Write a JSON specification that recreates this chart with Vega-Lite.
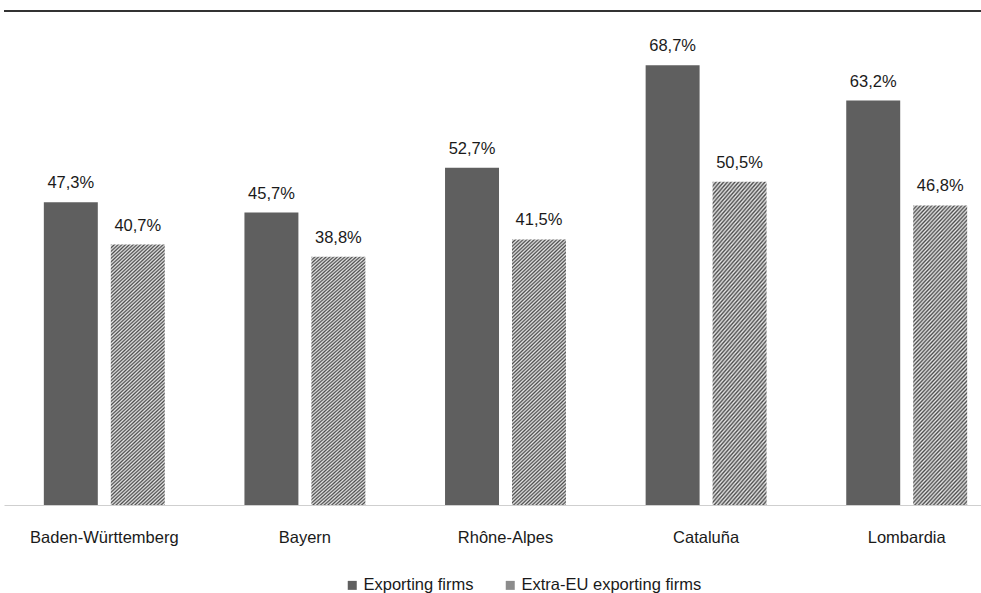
{
  "$schema": "https://vega.github.io/schema/vega-lite/v6.json",
  "width": 977,
  "height": 494,
  "autosize": "none",
  "padding": {"left": 4, "top": 11, "right": 0, "bottom": 88},
  "background": "white",
  "config": {
    "locale": {"number": {"decimal": ",", "thousands": ".", "grouping": [3], "currency": ["", " €"]}},
    "view": {"stroke": null},
    "font": "Liberation Sans"
  },
  "data": {
    "values": [
      {"region": "Baden-Württemberg", "series": "Exporting firms", "share": 0.473},
      {"region": "Baden-Württemberg", "series": "Extra-EU exporting firms", "share": 0.407},
      {"region": "Bayern", "series": "Exporting firms", "share": 0.457},
      {"region": "Bayern", "series": "Extra-EU exporting firms", "share": 0.388},
      {"region": "Rhône-Alpes", "series": "Exporting firms", "share": 0.527},
      {"region": "Rhône-Alpes", "series": "Extra-EU exporting firms", "share": 0.415},
      {"region": "Cataluña", "series": "Exporting firms", "share": 0.687},
      {"region": "Cataluña", "series": "Extra-EU exporting firms", "share": 0.505},
      {"region": "Lombardia", "series": "Exporting firms", "share": 0.632},
      {"region": "Lombardia", "series": "Extra-EU exporting firms", "share": 0.468}
    ]
  },
  "layer": [
    {
      "mark": {"type": "bar"},
      "encoding": {
        "x": {
          "field": "region", "type": "nominal", "sort": null,
          "scale": {"range": [0, 1003], "paddingInner": 0, "paddingOuter": 0},
          "axis": {
            "title": null, "labelAngle": 0, "ticks": false,
            "domainColor": "#cfcfcf", "domainWidth": 1,
            "labelFont": "Liberation Sans", "labelFontSize": 16.5, "labelColor": "#1a1a1a",
            "labelPadding": 24
          }
        },
        "xOffset": {"field": "series", "type": "nominal", "scale": {"paddingInner": 0.194, "paddingOuter": 0.595}},
        "y": {"field": "share", "type": "quantitative", "scale": {"domain": [0, 0.771875], "nice": false}, "axis": null},
        "fill": {
          "condition": {"test": "datum.series === 'Extra-EU exporting firms'", "value": {"gradient": "linear", "x1": 0, "y1": 0, "x2": 0.2493, "y2": 1.2927, "stops": [
            {"offset": 0, "color": "#4d4d4d"}, {"offset": 0.005, "color": "#e6e6e6"},
            {"offset": 0.01, "color": "#4d4d4d"}, {"offset": 0.015, "color": "#e6e6e6"},
            {"offset": 0.02, "color": "#4d4d4d"}, {"offset": 0.025, "color": "#e6e6e6"},
            {"offset": 0.03, "color": "#4d4d4d"}, {"offset": 0.035, "color": "#e6e6e6"},
            {"offset": 0.04, "color": "#4d4d4d"}, {"offset": 0.045, "color": "#e6e6e6"},
            {"offset": 0.05, "color": "#4d4d4d"}, {"offset": 0.055, "color": "#e6e6e6"},
            {"offset": 0.06, "color": "#4d4d4d"}, {"offset": 0.065, "color": "#e6e6e6"},
            {"offset": 0.07, "color": "#4d4d4d"}, {"offset": 0.075, "color": "#e6e6e6"},
            {"offset": 0.08, "color": "#4d4d4d"}, {"offset": 0.085, "color": "#e6e6e6"},
            {"offset": 0.09, "color": "#4d4d4d"}, {"offset": 0.095, "color": "#e6e6e6"},
            {"offset": 0.10, "color": "#4d4d4d"}, {"offset": 0.105, "color": "#e6e6e6"},
            {"offset": 0.11, "color": "#4d4d4d"}, {"offset": 0.115, "color": "#e6e6e6"},
            {"offset": 0.12, "color": "#4d4d4d"}, {"offset": 0.125, "color": "#e6e6e6"},
            {"offset": 0.13, "color": "#4d4d4d"}, {"offset": 0.135, "color": "#e6e6e6"},
            {"offset": 0.14, "color": "#4d4d4d"}, {"offset": 0.145, "color": "#e6e6e6"},
            {"offset": 0.15, "color": "#4d4d4d"}, {"offset": 0.155, "color": "#e6e6e6"},
            {"offset": 0.16, "color": "#4d4d4d"}, {"offset": 0.165, "color": "#e6e6e6"},
            {"offset": 0.17, "color": "#4d4d4d"}, {"offset": 0.175, "color": "#e6e6e6"},
            {"offset": 0.18, "color": "#4d4d4d"}, {"offset": 0.185, "color": "#e6e6e6"},
            {"offset": 0.19, "color": "#4d4d4d"}, {"offset": 0.195, "color": "#e6e6e6"},
            {"offset": 0.20, "color": "#4d4d4d"}, {"offset": 0.205, "color": "#e6e6e6"},
            {"offset": 0.21, "color": "#4d4d4d"}, {"offset": 0.215, "color": "#e6e6e6"},
            {"offset": 0.22, "color": "#4d4d4d"}, {"offset": 0.225, "color": "#e6e6e6"},
            {"offset": 0.23, "color": "#4d4d4d"}, {"offset": 0.235, "color": "#e6e6e6"},
            {"offset": 0.24, "color": "#4d4d4d"}, {"offset": 0.245, "color": "#e6e6e6"},
            {"offset": 0.25, "color": "#4d4d4d"}, {"offset": 0.255, "color": "#e6e6e6"},
            {"offset": 0.26, "color": "#4d4d4d"}, {"offset": 0.265, "color": "#e6e6e6"},
            {"offset": 0.27, "color": "#4d4d4d"}, {"offset": 0.275, "color": "#e6e6e6"},
            {"offset": 0.28, "color": "#4d4d4d"}, {"offset": 0.285, "color": "#e6e6e6"},
            {"offset": 0.29, "color": "#4d4d4d"}, {"offset": 0.295, "color": "#e6e6e6"},
            {"offset": 0.30, "color": "#4d4d4d"}, {"offset": 0.305, "color": "#e6e6e6"},
            {"offset": 0.31, "color": "#4d4d4d"}, {"offset": 0.315, "color": "#e6e6e6"},
            {"offset": 0.32, "color": "#4d4d4d"}, {"offset": 0.325, "color": "#e6e6e6"},
            {"offset": 0.33, "color": "#4d4d4d"}, {"offset": 0.335, "color": "#e6e6e6"},
            {"offset": 0.34, "color": "#4d4d4d"}, {"offset": 0.345, "color": "#e6e6e6"},
            {"offset": 0.35, "color": "#4d4d4d"}, {"offset": 0.355, "color": "#e6e6e6"},
            {"offset": 0.36, "color": "#4d4d4d"}, {"offset": 0.365, "color": "#e6e6e6"},
            {"offset": 0.37, "color": "#4d4d4d"}, {"offset": 0.375, "color": "#e6e6e6"},
            {"offset": 0.38, "color": "#4d4d4d"}, {"offset": 0.385, "color": "#e6e6e6"},
            {"offset": 0.39, "color": "#4d4d4d"}, {"offset": 0.395, "color": "#e6e6e6"},
            {"offset": 0.40, "color": "#4d4d4d"}, {"offset": 0.405, "color": "#e6e6e6"},
            {"offset": 0.41, "color": "#4d4d4d"}, {"offset": 0.415, "color": "#e6e6e6"},
            {"offset": 0.42, "color": "#4d4d4d"}, {"offset": 0.425, "color": "#e6e6e6"},
            {"offset": 0.43, "color": "#4d4d4d"}, {"offset": 0.435, "color": "#e6e6e6"},
            {"offset": 0.44, "color": "#4d4d4d"}, {"offset": 0.445, "color": "#e6e6e6"},
            {"offset": 0.45, "color": "#4d4d4d"}, {"offset": 0.455, "color": "#e6e6e6"},
            {"offset": 0.46, "color": "#4d4d4d"}, {"offset": 0.465, "color": "#e6e6e6"},
            {"offset": 0.47, "color": "#4d4d4d"}, {"offset": 0.475, "color": "#e6e6e6"},
            {"offset": 0.48, "color": "#4d4d4d"}, {"offset": 0.485, "color": "#e6e6e6"},
            {"offset": 0.49, "color": "#4d4d4d"}, {"offset": 0.495, "color": "#e6e6e6"},
            {"offset": 0.50, "color": "#4d4d4d"}, {"offset": 0.505, "color": "#e6e6e6"},
            {"offset": 0.51, "color": "#4d4d4d"}, {"offset": 0.515, "color": "#e6e6e6"},
            {"offset": 0.52, "color": "#4d4d4d"}, {"offset": 0.525, "color": "#e6e6e6"},
            {"offset": 0.53, "color": "#4d4d4d"}, {"offset": 0.535, "color": "#e6e6e6"},
            {"offset": 0.54, "color": "#4d4d4d"}, {"offset": 0.545, "color": "#e6e6e6"},
            {"offset": 0.55, "color": "#4d4d4d"}, {"offset": 0.555, "color": "#e6e6e6"},
            {"offset": 0.56, "color": "#4d4d4d"}, {"offset": 0.565, "color": "#e6e6e6"},
            {"offset": 0.57, "color": "#4d4d4d"}, {"offset": 0.575, "color": "#e6e6e6"},
            {"offset": 0.58, "color": "#4d4d4d"}, {"offset": 0.585, "color": "#e6e6e6"},
            {"offset": 0.59, "color": "#4d4d4d"}, {"offset": 0.595, "color": "#e6e6e6"},
            {"offset": 0.60, "color": "#4d4d4d"}, {"offset": 0.605, "color": "#e6e6e6"},
            {"offset": 0.61, "color": "#4d4d4d"}, {"offset": 0.615, "color": "#e6e6e6"},
            {"offset": 0.62, "color": "#4d4d4d"}, {"offset": 0.625, "color": "#e6e6e6"},
            {"offset": 0.63, "color": "#4d4d4d"}, {"offset": 0.635, "color": "#e6e6e6"},
            {"offset": 0.64, "color": "#4d4d4d"}, {"offset": 0.645, "color": "#e6e6e6"},
            {"offset": 0.65, "color": "#4d4d4d"}, {"offset": 0.655, "color": "#e6e6e6"},
            {"offset": 0.66, "color": "#4d4d4d"}, {"offset": 0.665, "color": "#e6e6e6"},
            {"offset": 0.67, "color": "#4d4d4d"}, {"offset": 0.675, "color": "#e6e6e6"},
            {"offset": 0.68, "color": "#4d4d4d"}, {"offset": 0.685, "color": "#e6e6e6"},
            {"offset": 0.69, "color": "#4d4d4d"}, {"offset": 0.695, "color": "#e6e6e6"},
            {"offset": 0.70, "color": "#4d4d4d"}, {"offset": 0.705, "color": "#e6e6e6"},
            {"offset": 0.71, "color": "#4d4d4d"}, {"offset": 0.715, "color": "#e6e6e6"},
            {"offset": 0.72, "color": "#4d4d4d"}, {"offset": 0.725, "color": "#e6e6e6"},
            {"offset": 0.73, "color": "#4d4d4d"}, {"offset": 0.735, "color": "#e6e6e6"},
            {"offset": 0.74, "color": "#4d4d4d"}, {"offset": 0.745, "color": "#e6e6e6"},
            {"offset": 0.75, "color": "#4d4d4d"}, {"offset": 0.755, "color": "#e6e6e6"},
            {"offset": 0.76, "color": "#4d4d4d"}, {"offset": 0.765, "color": "#e6e6e6"},
            {"offset": 0.77, "color": "#4d4d4d"}, {"offset": 0.775, "color": "#e6e6e6"},
            {"offset": 0.78, "color": "#4d4d4d"}, {"offset": 0.785, "color": "#e6e6e6"},
            {"offset": 0.79, "color": "#4d4d4d"}, {"offset": 0.795, "color": "#e6e6e6"},
            {"offset": 0.80, "color": "#4d4d4d"}, {"offset": 0.805, "color": "#e6e6e6"},
            {"offset": 0.81, "color": "#4d4d4d"}, {"offset": 0.815, "color": "#e6e6e6"},
            {"offset": 0.82, "color": "#4d4d4d"}, {"offset": 0.825, "color": "#e6e6e6"},
            {"offset": 0.83, "color": "#4d4d4d"}, {"offset": 0.835, "color": "#e6e6e6"},
            {"offset": 0.84, "color": "#4d4d4d"}, {"offset": 0.845, "color": "#e6e6e6"},
            {"offset": 0.85, "color": "#4d4d4d"}, {"offset": 0.855, "color": "#e6e6e6"},
            {"offset": 0.86, "color": "#4d4d4d"}, {"offset": 0.865, "color": "#e6e6e6"},
            {"offset": 0.87, "color": "#4d4d4d"}, {"offset": 0.875, "color": "#e6e6e6"},
            {"offset": 0.88, "color": "#4d4d4d"}, {"offset": 0.885, "color": "#e6e6e6"},
            {"offset": 0.89, "color": "#4d4d4d"}, {"offset": 0.895, "color": "#e6e6e6"},
            {"offset": 0.90, "color": "#4d4d4d"}, {"offset": 0.905, "color": "#e6e6e6"},
            {"offset": 0.91, "color": "#4d4d4d"}, {"offset": 0.915, "color": "#e6e6e6"},
            {"offset": 0.92, "color": "#4d4d4d"}, {"offset": 0.925, "color": "#e6e6e6"},
            {"offset": 0.93, "color": "#4d4d4d"}, {"offset": 0.935, "color": "#e6e6e6"},
            {"offset": 0.94, "color": "#4d4d4d"}, {"offset": 0.945, "color": "#e6e6e6"},
            {"offset": 0.95, "color": "#4d4d4d"}, {"offset": 0.955, "color": "#e6e6e6"},
            {"offset": 0.96, "color": "#4d4d4d"}, {"offset": 0.965, "color": "#e6e6e6"},
            {"offset": 0.97, "color": "#4d4d4d"}, {"offset": 0.975, "color": "#e6e6e6"},
            {"offset": 0.98, "color": "#4d4d4d"}, {"offset": 0.985, "color": "#e6e6e6"},
            {"offset": 0.99, "color": "#4d4d4d"}, {"offset": 0.995, "color": "#e6e6e6"},
            {"offset": 1, "color": "#4d4d4d"}
          ]}},
          "field": "series", "type": "nominal",
          "scale": {"range": ["#5f5f5f", "#8c8c8c"]},
          "legend": {
            "orient": "none", "legendX": 340, "legendY": 566, "direction": "horizontal",
            "title": null, "padding": 0,
            "symbolType": "square", "symbolSize": 81, "symbolStrokeWidth": 0,
            "labelFont": "Liberation Sans", "labelFontSize": 16.5, "labelColor": "#1a1a1a",
            "labelOffset": 3, "columnPadding": 28, "labelLimit": 400,
            "encode": {"symbols": {"update": {"fill": [
              {"test": "datum.value === 'Exporting firms'", "value": "#161616"},
              {"scale": "fill", "field": "value"}
            ]}}}
          }
        }
      }
    },
    {
      "mark": {"type": "text", "dy": -14, "baseline": "alphabetic", "font": "Liberation Sans", "fontSize": 16.5, "color": "#1a1a1a"},
      "encoding": {
        "x": {"field": "region", "type": "nominal", "sort": null},
        "xOffset": {"field": "series", "type": "nominal"},
        "y": {"field": "share", "type": "quantitative"},
        "text": {"field": "share", "type": "quantitative", "format": ".1%"}
      }
    },
    {
      "data": {"values": [{"top": 0.771875}]},
      "mark": {"type": "rule", "color": "#333333", "strokeWidth": 2},
      "encoding": {"y": {"field": "top", "type": "quantitative"}}
    }
  ]
}
